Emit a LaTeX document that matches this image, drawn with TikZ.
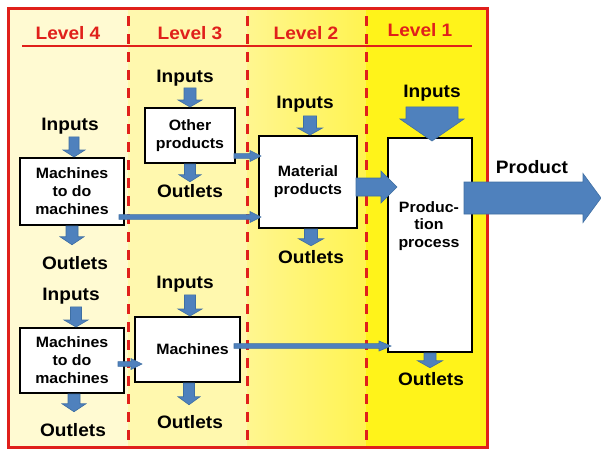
\documentclass[tikz,border=0pt]{standalone}
\usepackage{fontspec}
\setmainfont{Liberation Sans}[FakeStretch=1.06]
\usetikzlibrary{calc}
\definecolor{lvlred}{HTML}{E0201B}
\definecolor{ablue}{HTML}{4F81BD}
\definecolor{ablueline}{HTML}{3F6FA3}
\definecolor{yfour}{HTML}{FFFAD2}
\definecolor{ythree}{HTML}{FFF8AE}
\definecolor{ytwoa}{HTML}{FFF690}
\definecolor{ytwob}{HTML}{FFF350}
\definecolor{yone}{HTML}{FFF31A}
\tikzset{
  lbl/.style={font=\fontsize{18}{20}\selectfont\bfseries, inner sep=1pt, anchor=base},
  hdr/.style={lbl, text=lvlred},
  box/.style={draw=black, line width=2pt, fill=white, align=center, inner sep=0pt,
    font=\fontsize{15}{18}\selectfont\bfseries},
  boxtext/.style={align=center, inner sep=0pt, font=\fontsize{15}{17.5}\selectfont\bfseries},
  barrow/.style={fill=ablue, draw=ablueline, line width=0.6pt},
  frameline/.style={draw=lvlred, line width=3pt},
  levelsep/.style={draw=lvlred, line width=3pt, dash pattern=on 10pt off 8pt},
}
% vertical block arrow: from #1 (x and start y) down to #2 (tip y)
\newcommand\blockv[5]{\path[barrow] let \p1=#1, \p2=#2 in
  (\x1-#3,\y1) -- (\x1+#3,\y1) -- (\x1+#3,\y2+#5) -- (\x1+#4,\y2+#5) --
  (\x1,\y2) -- (\x1-#4,\y2+#5) -- (\x1-#3,\y2+#5) -- cycle;}
% horizontal block arrow: from #1 (start x and y) right to #2 (tip x)
\newcommand\blockh[5]{\path[barrow] let \p1=#1, \p2=#2 in
  (\x1,\y1+#3) -- (\x2-#5,\y1+#3) -- (\x2-#5,\y1+#4) -- (\x2,\y1) --
  (\x2-#5,\y1-#4) -- (\x2-#5,\y1-#3) -- (\x1,\y1-#3) -- cycle;}
\begin{document}
\begin{tikzpicture}[x=1pt,y=-1pt]
\useasboundingbox (0,0) rectangle (601,448);
\fill[white] (0,0) rectangle (601,448);
% column backgrounds
\fill[yfour] (8,8) rectangle (128,447);
\fill[ythree] (128,8) rectangle (247,447);
\shade[left color=ytwoa, right color=ytwob] (247,8) rectangle (366,447);
\fill[yone] (366,8) rectangle (487,447);
% frame, header line, separators
\path[frameline] (8,8) rectangle (487,447);
\path[draw=lvlred, line width=2.5pt] (22,46) -- (472,46);
\path[levelsep] (128,16) -- (128,447);
\path[levelsep] (247,16) -- (247,447);
\path[levelsep] (366,16) -- (366,447);
% headers
\node[hdr] (h4) at (68,39) {Level 4};
\node[hdr] (h3) at (190,39) {Level 3};
\node[hdr] (h2) at (306,39) {Level 2};
\node[hdr] (h1) at (420,36) {Level 1};
% labels
\node[lbl] (in4a) at (70,130) {Inputs};
\node[lbl] (out4a) at (75,269) {Outlets};
\node[lbl] (in4b) at (71,300) {Inputs};
\node[lbl] (out4b) at (73,436) {Outlets};
\node[lbl] (in3a) at (185,82) {Inputs};
\node[lbl] (out3a) at (190,197) {Outlets};
\node[lbl] (in3b) at (185,288) {Inputs};
\node[lbl] (out3b) at (190,428) {Outlets};
\node[lbl] (in2) at (305,108) {Inputs};
\node[lbl] (out2) at (311,263) {Outlets};
\node[lbl] (in1) at (432,97) {Inputs};
\node[lbl] (out1) at (431,385) {Outlets};
\node[lbl] (product) at (532,173) {Product};
% boxes
\node[box, minimum width=104pt, minimum height=67pt] (m4a) at (72,191.5) {Machines\\to do\\machines};
\node[box, minimum width=90pt, minimum height=55pt] (op) at (190,135.5) {Other\\products};
\node[box, minimum width=98pt, minimum height=92pt] (mat) at (308,182) {Material\\products};
\node[box, minimum width=84pt, minimum height=214pt] (prod) at (430,245) {};
\node[boxtext] (prodtxt) at (429,226) {Produc-\\tion\\process};
\node[box, minimum width=104pt, minimum height=65pt] (m4b) at (72,360.5) {Machines\\to do\\machines};
\node[box, minimum width=105pt, minimum height=65pt] (mach) at (187.5,349.5) {\hspace*{10pt}Machines};
% input arrows
\blockv{($(m4a.north |- in4a.south)+(2,2)$)}{(m4a.north)}{5pt}{11pt}{7pt}
\blockv{($(op.north |- in3a.south)+(0,1)$)}{(op.north)}{6pt}{12pt}{7pt}
\blockv{($(mat.north |- in2.south)+(2,3)$)}{(mat.north)}{6.5pt}{12.5pt}{7pt}
\blockv{($(prod.north |- in1.south)+(2,5)$)}{($(prod.north)+(0,4)$)}{26pt}{32pt}{22pt}
\blockv{($(m4b.north |- in4b.south)+(4,2)$)}{(m4b.north)}{5.5pt}{12pt}{7pt}
\blockv{($(mach.north |- in3b.south)+(2.5,2)$)}{(mach.north)}{5.5pt}{12pt}{7pt}
% outlet arrows
\blockv{(m4a.south)}{($(out4a.north)+(0,-10)$)}{6pt}{12pt}{8pt}
\blockv{(op.south)}{($(out3a.north)+(0,-1)$)}{5.5pt}{11pt}{7pt}
\blockv{($(mat.south)+(3,0)$)}{($(out2.north)+(0,-3)$)}{6.5pt}{12.5pt}{7pt}
\blockv{(prod.south)}{($(out1.north)+(0,-3)$)}{6pt}{12.5pt}{7pt}
\blockv{($(m4b.south)+(2,0)$)}{($(out4b.north)+(0,-10)$)}{6pt}{12pt}{8pt}
\blockv{($(mach.south)+(1.5,0)$)}{($(out3b.north)+(0,-9)$)}{5.5pt}{11pt}{8pt}
% horizontal arrows
\blockh{($(op.south east)+(-2,-8)$)}{($(mat.west)+(3,0)$)}{2.4pt}{5.5pt}{11pt}
\blockh{($(m4a.south east)+(-6,-9)$)}{($(mat.west)+(3,0)$)}{2.4pt}{5.5pt}{11pt}
\blockh{($(m4b.east)+(-7,3.5)$)}{($(mach.west)+(8,0)$)}{2.4pt}{5.5pt}{11pt}
\blockh{($(mach.east)+(-7,-3.5)$)}{($(prod.west)+(4,0)$)}{2.4pt}{5pt}{12pt}
\blockh{($(mat.east)+(-2,5)$)}{($(prod.west)+(10,0)$)}{9pt}{16pt}{16pt}
\coordinate (prodtip) at (601,198);
\blockh{($(prod.east)+(-9,-47)$)}{(prodtip)}{16pt}{24.5pt}{18pt}
\end{tikzpicture}
\end{document}
